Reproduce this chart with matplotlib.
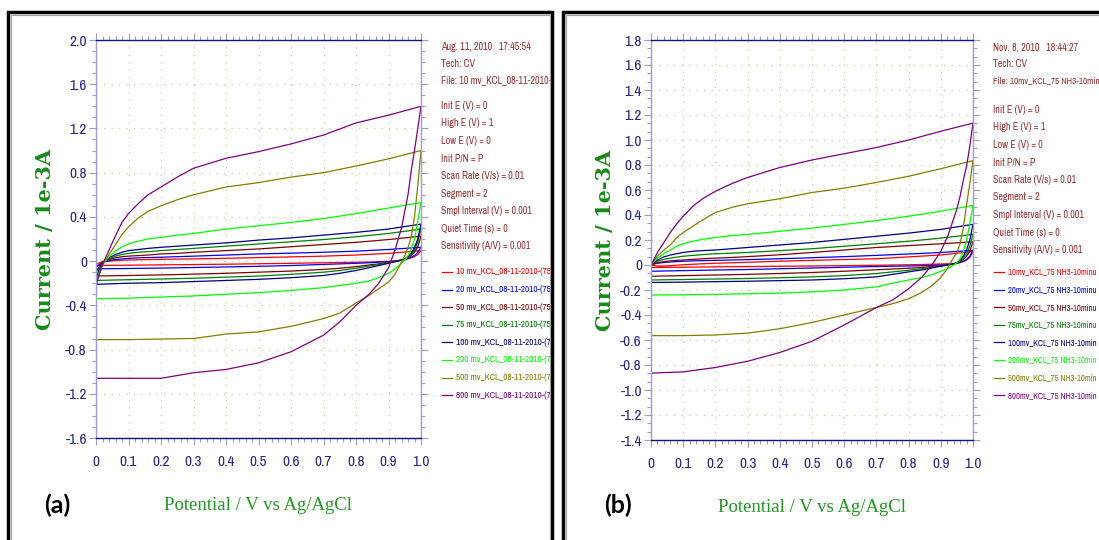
import os
import matplotlib
matplotlib.use("Agg")
import matplotlib.pyplot as plt
from matplotlib import font_manager as fm
from matplotlib.font_manager import FontProperties
from matplotlib.lines import Line2D
from matplotlib.patches import Rectangle
from matplotlib.transforms import Bbox, TransformedBbox
from matplotlib.ticker import MultipleLocator, AutoMinorLocator, FuncFormatter

# scan rates (mV/s) and trace colours
rates = ["10", "20", "50", "75", "100", "200", "500", "800"]
colors = ["#ff0000", "#0000ff", "#800000", "#008000",
          "#000080", "#00ff00", "#808000", "#800080"]

labels_a = [r + " mv_KCL_08-11-2010-(75" if len(r) < 3 else r + " mv_KCL_08-11-2010-(7"
            for r in rates]
labels_b = [r + "mv_KCL_75 NH3-10minu" if len(r) < 3 else r + "mv_KCL_75 NH3-10min"
            for r in rates]

info_a = ["Aug. 11, 2010   17:45:54", "Tech: CV", "File: 10 mv_KCL_08-11-2010-(7"]
info_b = ["Nov. 8, 2010   18:44:27", "Tech: CV", "File: 10mv_KCL_75 NH3-10min"]
params = ["Init E (V) = 0", "High E (V) = 1", "Low E (V) = 0", "Init P/N = P",
          "Scan Rate (V/s) = 0.01", "Segment = 2", "Smpl Interval (V) = 0.001",
          "Quiet Time (s) = 0", "Sensitivity (A/V) = 0.001"]

# potential grids for the forward (0 -> 1 V) and reverse (1 -> 0 V) sweeps
v_fwd = [0, 0.01, 0.02, 0.04, 0.06, 0.08, 0.1, 0.13, 0.16, 0.2, 0.25, 0.3,
         0.4, 0.5, 0.6, 0.7, 0.8, 0.9, 1.0]
v_rev = [1.0, 0.99, 0.98, 0.97, 0.96, 0.95, 0.94, 0.92, 0.9, 0.87, 0.84, 0.8,
         0.75, 0.7, 0.6, 0.5, 0.4, 0.3, 0.2, 0.1, 0.0]

# (a) KCl, current in 1e-3 A, one row per scan rate
a_fwd = [
    [-0.03, -0.015, -0.005, 0.0, 0.005, 0.008, 0.01, 0.012, 0.014, 0.016, 0.018, 0.02, 0.025, 0.032, 0.038, 0.045, 0.055, 0.07, 0.095],
    [-0.06, -0.03, -0.01, 0.005, 0.015, 0.02, 0.025, 0.03, 0.032, 0.035, 0.04, 0.045, 0.055, 0.065, 0.072, 0.08, 0.09, 0.105, 0.125],
    [-0.10, -0.05, -0.01, 0.015, 0.03, 0.04, 0.045, 0.05, 0.055, 0.065, 0.07, 0.08, 0.095, 0.11, 0.13, 0.15, 0.17, 0.195, 0.225],
    [-0.15, -0.07, -0.02, 0.02, 0.045, 0.06, 0.07, 0.08, 0.085, 0.095, 0.105, 0.115, 0.135, 0.155, 0.175, 0.195, 0.22, 0.25, 0.29],
    [-0.18, -0.08, -0.02, 0.03, 0.06, 0.08, 0.095, 0.105, 0.115, 0.125, 0.135, 0.145, 0.165, 0.19, 0.21, 0.235, 0.26, 0.29, 0.335],
    [-0.20, -0.10, -0.03, 0.04, 0.09, 0.13, 0.155, 0.18, 0.20, 0.215, 0.235, 0.25, 0.29, 0.32, 0.35, 0.385, 0.43, 0.48, 0.53],
    [-0.22, -0.12, -0.04, 0.06, 0.15, 0.24, 0.31, 0.39, 0.45, 0.50, 0.555, 0.60, 0.67, 0.71, 0.76, 0.80, 0.86, 0.925, 1.0],
    [-0.22, -0.12, -0.03, 0.10, 0.23, 0.35, 0.43, 0.52, 0.60, 0.67, 0.76, 0.84, 0.93, 0.99, 1.06, 1.14, 1.25, 1.32, 1.40],
]
a_rev = [
    [0.095, 0.06, 0.04, 0.03, 0.02, 0.012, 0.008, 0.002, -0.002, -0.005, -0.008, -0.01, -0.012, -0.015, -0.02, -0.024, -0.028, -0.031, -0.034, -0.037, -0.04],
    [0.125, 0.08, 0.05, 0.035, 0.025, 0.015, 0.008, 0.0, -0.005, -0.01, -0.015, -0.02, -0.025, -0.03, -0.04, -0.047, -0.053, -0.058, -0.063, -0.067, -0.07],
    [0.225, 0.13, 0.08, 0.05, 0.03, 0.018, 0.01, -0.003, -0.012, -0.025, -0.035, -0.05, -0.065, -0.075, -0.09, -0.10, -0.11, -0.118, -0.125, -0.13, -0.135],
    [0.29, 0.17, 0.10, 0.06, 0.035, 0.02, 0.01, -0.005, -0.015, -0.03, -0.045, -0.065, -0.085, -0.10, -0.12, -0.135, -0.145, -0.155, -0.162, -0.168, -0.175],
    [0.335, 0.20, 0.12, 0.07, 0.04, 0.02, 0.01, -0.005, -0.02, -0.04, -0.06, -0.085, -0.11, -0.13, -0.15, -0.165, -0.175, -0.185, -0.195, -0.20, -0.21],
    [0.53, 0.36, 0.20, 0.11, 0.05, 0.01, -0.02, -0.07, -0.11, -0.15, -0.18, -0.20, -0.22, -0.24, -0.265, -0.285, -0.30, -0.315, -0.325, -0.335, -0.34],
    [1.0, 0.68, 0.40, 0.22, 0.12, 0.05, -0.01, -0.12, -0.19, -0.25, -0.31, -0.38, -0.47, -0.52, -0.59, -0.64, -0.66, -0.70, -0.705, -0.71, -0.71],
    [1.40, 1.20, 1.00, 0.82, 0.60, 0.45, 0.30, 0.10, -0.06, -0.20, -0.30, -0.40, -0.55, -0.67, -0.82, -0.92, -0.98, -1.01, -1.06, -1.06, -1.06],
]

# (b) KCl after 75 NH3 10 min
b_fwd = [
    [0.0, -0.005, -0.008, -0.008, -0.005, -0.002, 0.002, 0.006, 0.01, 0.014, 0.018, 0.022, 0.03, 0.037, 0.044, 0.05, 0.065, 0.08, 0.108],
    [0.0, 0.008, 0.014, 0.02, 0.024, 0.027, 0.03, 0.033, 0.035, 0.037, 0.04, 0.043, 0.05, 0.058, 0.067, 0.077, 0.088, 0.10, 0.117],
    [0.0, 0.01, 0.018, 0.027, 0.033, 0.037, 0.04, 0.045, 0.05, 0.055, 0.06, 0.067, 0.082, 0.10, 0.12, 0.14, 0.155, 0.17, 0.185],
    [0.0, 0.015, 0.03, 0.045, 0.055, 0.063, 0.07, 0.077, 0.083, 0.09, 0.095, 0.10, 0.115, 0.13, 0.15, 0.17, 0.19, 0.215, 0.245],
    [0.0, 0.02, 0.04, 0.065, 0.08, 0.09, 0.10, 0.11, 0.115, 0.12, 0.13, 0.14, 0.16, 0.18, 0.205, 0.23, 0.255, 0.285, 0.325],
    [0.0, 0.03, 0.055, 0.09, 0.12, 0.15, 0.17, 0.19, 0.205, 0.22, 0.235, 0.245, 0.27, 0.295, 0.325, 0.355, 0.39, 0.43, 0.476],
    [0.0, 0.04, 0.07, 0.12, 0.16, 0.22, 0.26, 0.31, 0.36, 0.42, 0.46, 0.49, 0.53, 0.58, 0.615, 0.66, 0.71, 0.77, 0.835],
    [0.0, 0.05, 0.10, 0.18, 0.26, 0.33, 0.39, 0.47, 0.53, 0.59, 0.65, 0.70, 0.78, 0.84, 0.89, 0.94, 1.0, 1.07, 1.135],
]
b_rev = [
    [0.108, 0.06, 0.04, 0.028, 0.02, 0.015, 0.012, 0.01, 0.008, 0.006, 0.004, 0.002, 0.0, -0.002, -0.005, -0.008, -0.01, -0.013, -0.015, -0.018, -0.02],
    [0.117, 0.07, 0.045, 0.03, 0.02, 0.012, 0.007, 0.002, 0.0, -0.003, -0.006, -0.008, -0.01, -0.012, -0.018, -0.024, -0.03, -0.036, -0.04, -0.045, -0.05],
    [0.185, 0.11, 0.07, 0.045, 0.025, 0.015, 0.008, 0.0, -0.005, -0.012, -0.02, -0.026, -0.032, -0.038, -0.05, -0.06, -0.068, -0.075, -0.08, -0.085, -0.09],
    [0.245, 0.15, 0.09, 0.055, 0.03, 0.018, 0.01, 0.0, -0.008, -0.02, -0.03, -0.042, -0.055, -0.068, -0.085, -0.095, -0.102, -0.108, -0.112, -0.116, -0.12],
    [0.325, 0.20, 0.12, 0.07, 0.04, 0.02, 0.01, 0.0, -0.01, -0.025, -0.04, -0.055, -0.075, -0.095, -0.11, -0.12, -0.125, -0.13, -0.133, -0.137, -0.14],
    [0.476, 0.33, 0.20, 0.11, 0.05, 0.02, 0.0, -0.03, -0.05, -0.08, -0.10, -0.12, -0.145, -0.175, -0.20, -0.215, -0.225, -0.23, -0.235, -0.238, -0.24],
    [0.835, 0.65, 0.48, 0.30, 0.17, 0.10, 0.06, -0.03, -0.10, -0.17, -0.22, -0.27, -0.31, -0.34, -0.40, -0.46, -0.51, -0.545, -0.56, -0.565, -0.565],
    [1.135, 0.95, 0.79, 0.68, 0.55, 0.45, 0.37, 0.22, 0.11, -0.01, -0.10, -0.19, -0.28, -0.34, -0.48, -0.61, -0.70, -0.77, -0.82, -0.855, -0.865],
]

W, H = 1099, 540
plt.rcParams["font.family"] = ["Liberation Sans", "DejaVu Sans"]


def find_narrow():
    # look for an installed narrow / condensed sans face (Arial Narrow look)
    best = None
    for f in fm.fontManager.ttflist:
        base = os.path.basename(f.fname).lower().replace("-", "").replace("_", "")
        name = f.name.lower()
        if f.style != "normal" or f.weight not in (400, "normal", "regular"):
            continue
        if "mono" in name or ("serif" in name and "sans" not in name):
            continue
        if "narrow" in base or "narrow" in name:
            rank = 0
        elif "condensed" in base and "extra" not in base and "semi" not in base \
                and "ultra" not in base:
            rank = 1
        elif "semicondensed" in base:
            rank = 2
        else:
            continue
        if base.startswith("liberation") or base.startswith("noto"):
            rank -= 0.5
        if best is None or rank < best[0]:
            best = (rank, f.fname)
    return best[1] if best else None


narrow_path = find_narrow()


def nprop(size):
    if narrow_path:
        return FontProperties(fname=narrow_path, size=size)
    return FontProperties(family=["Liberation Sans", "DejaVu Sans"], size=size * 0.82)


spine_dark = "#14147e"
spine_light = "#9c9cd8"
tick_lbl = "#27278a"
info_col = "#9b2f2f"


def fx(px):
    return px / W


def fy(py):
    return 1 - py / H


def fmt(v, pos):
    if abs(v) < 1e-9:
        return "0"
    return "%.1f" % v


def style_axes(ax, ylo, yhi, ymaj, yminor):
    ax.set_xlim(0, 1)
    ax.set_ylim(ylo, yhi)
    ax.xaxis.set_major_locator(MultipleLocator(0.1))
    ax.xaxis.set_minor_locator(MultipleLocator(0.02))
    ax.yaxis.set_major_locator(MultipleLocator(ymaj))
    ax.yaxis.set_minor_locator(yminor)
    ax.xaxis.set_major_formatter(FuncFormatter(fmt))
    ax.yaxis.set_major_formatter(FuncFormatter(fmt))
    ax.tick_params(which="both", direction="out", top=True, right=True,
                   color=spine_light, width=0.8)
    ax.tick_params(which="major", length=5)
    ax.tick_params(which="minor", length=3)
    ax.tick_params(axis="x", pad=7, labelcolor=tick_lbl)
    ax.tick_params(axis="y", pad=1.5, labelcolor=tick_lbl)
    for lbl in ax.get_xticklabels() + ax.get_yticklabels():
        lbl.set_fontproperties(nprop(11))
    for side in ("top", "bottom"):
        ax.spines[side].set_color(spine_dark)
        ax.spines[side].set_linewidth(1.0)
    for side in ("left", "right"):
        ax.spines[side].set_color(spine_light)
        ax.spines[side].set_linewidth(1.0)
    ax.grid(True, which="major", color="#cfcf9a", linestyle=(0, (1, 5)), linewidth=0.9)
    ax.set_axisbelow(True)
    ax.set_xlabel("Potential / V vs Ag/AgCl", family=["Liberation Serif", "DejaVu Serif"],
                  fontsize=13.5, color="#1e9a1e")
    ax.xaxis.label.set_va("center")
    ax.set_ylabel("Current / 1e-3A", family=["DejaVu Serif"], fontweight="bold",
                  fontsize=15, color="#178a17")
    ax.yaxis.label.set_va("center")


def draw_cv(ax, fwd, rev):
    for i in range(len(rates)):
        ax.plot(v_fwd + v_rev, fwd[i] + rev[i], color=colors[i], lw=0.9)


def info_block(fig, x, lines, gap_y, labels, clip_x, size, file_size, leg_size):
    clip = TransformedBbox(Bbox([[0, 0], [fx(clip_x), 1]]), fig.transFigure)
    texts = []
    for k, s in enumerate(lines):
        sz = file_size if s.startswith("File") else size
        texts.append(fig.text(fx(x), fy(47 + 17 * k), s, fontproperties=nprop(sz),
                              color=info_col, va="center"))
    for k, s in enumerate(params):
        texts.append(fig.text(fx(x), fy(gap_y + 17.5 * k), s, fontproperties=nprop(size),
                              color=info_col, va="center"))
    for k, s in enumerate(labels):
        y = 272 + 17.6 * k
        fig.add_artist(Line2D([fx(x + 1), fx(x + 11)], [fy(y), fy(y)], color=colors[k], lw=0.9))
        texts.append(fig.text(fx(x + 15), fy(y), s, fontproperties=nprop(leg_size),
                              color=colors[k], va="center"))
    for t in texts:
        t.set_clip_box(clip)
        t.set_clip_on(True)


fig = plt.figure(figsize=(W / 100, H / 100), dpi=100)

ax_a = fig.add_axes([fx(96), fy(438), (421 - 96) / W, (438 - 40) / H])
ax_b = fig.add_axes([fx(651), fy(440), (973 - 651) / W, (440 - 40) / H])

draw_cv(ax_a, a_fwd, a_rev)
draw_cv(ax_b, b_fwd, b_rev)
style_axes(ax_a, -1.6, 2.0, 0.4, MultipleLocator(0.1))
style_axes(ax_b, -1.4, 1.8, 0.2, AutoMinorLocator(3))
ax_a.xaxis.set_label_coords(0.5, -(505 - 438) / 398)
ax_b.xaxis.set_label_coords(0.5, -(507 - 440) / 400)
ax_a.yaxis.set_label_coords(-(96 - 45) / 325, 0.5)
ax_b.yaxis.set_label_coords(-(651 - 605) / 322, 0.5)

info_block(fig, 441, info_a, 106, labels_a, 550, 7.2, 7.2, 6.6)
info_block(fig, 993, info_b, 110, labels_b, 1099, 7.2, 6.6, 6.2)

fig.text(fx(57), fy(505), "(a)", fontsize=18, fontweight="bold", family=["Lato", "DejaVu Sans"],
         ha="center", va="center")
fig.text(fx(618), fy(505), "(b)", fontsize=18, fontweight="bold", family=["Lato", "DejaVu Sans"],
         ha="center", va="center")

# panel frames: black border with a thin grey line just inside
for left, width in ((8, 544), (563, 700)):
    fig.add_artist(Rectangle((fx(left), -0.05), width / W, 1.05 - 12 / H,
                             transform=fig.transFigure, fill=False, ec="black", lw=2.5))
    fig.add_artist(Rectangle((fx(left + 2.5), -0.05), (width - 5) / W, 1.05 - 14.5 / H,
                             transform=fig.transFigure, fill=False, ec="#a0a0a0", lw=0.8))

fig.savefig("out.png", dpi=100, facecolor="white")
